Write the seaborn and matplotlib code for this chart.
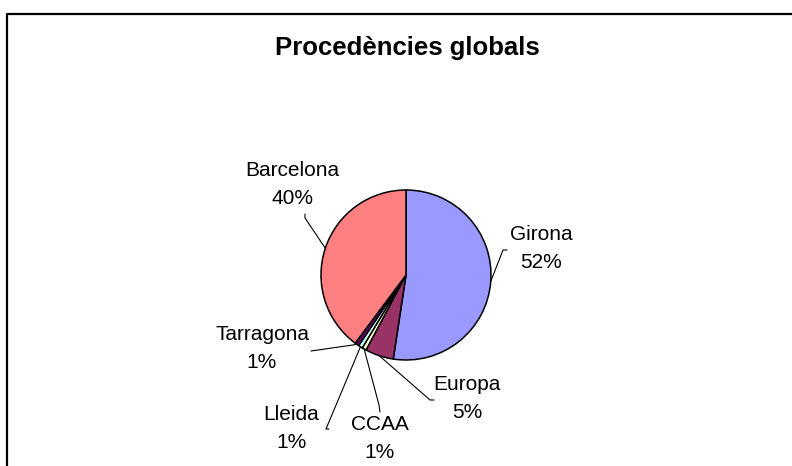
import numpy as np
import seaborn as sns
import matplotlib.pyplot as plt

# data
regions = ['Girona', 'Europa', 'CCAA', 'Lleida', 'Tarragona', 'Barcelona']
shares = [52.4, 5.4, 0.8, 0.8, 0.8, 39.8]
pct_labels = ['52%', '5%', '1%', '1%', '1%', '40%']
colors = ['#9999FF', '#993366', '#FFFFCC', '#CCFFFF', '#660066', '#FF8080']

# label layout in pixels: text centre, leader bend, leader end
W, H = 792, 466
text_pos = [(541, 249), (467, 398), (380, 439), (291, 428), (262, 349), (292, 184)]
line_bend = [(503, 250), (430, 400), (379, 405), (326, 429), (311, 351), (305, 218)]
line_end = [(507, 250), (434, 400), (380, 412), (329, 429), (311, 351), (305, 214)]

sns.set_theme(style='white')
plt.rcParams['font.family'] = ['Liberation Sans', 'DejaVu Sans']
plt.rcParams['text.color'] = 'black'

fig = plt.figure(figsize=(W / 100, H / 100), dpi=100)
ax = fig.add_axes([0, 0, 1, 1])

cx, cy, r = 406, H - 275, 85
wedges, _ = ax.pie(shares, colors=colors, startangle=90, counterclock=False,
                   center=(cx, cy), radius=r,
                   wedgeprops=dict(edgecolor='black', linewidth=1.1))

# pie() resets the limits, so set them afterwards
ax.set_xlim(0, W)
ax.set_ylim(0, H)
ax.set_aspect('equal')
ax.axis('off')

# chart frame (only top and left visible)
ax.plot([7, 7, W + 5], [-5, H - 14, H - 14], color='black', lw=1.6)

ax.text(407, H - 48, 'Procedències globals', ha='center', va='center',
        fontsize=18.5, fontweight='bold', color='black')

for w, name, pct, (tx, ty), (bx, by), (lx, ly) in zip(wedges, regions, pct_labels,
                                                      text_pos, line_bend, line_end):
    mid = np.deg2rad((w.theta1 + w.theta2) / 2)
    ax0, ay0 = cx + r * np.cos(mid), cy + r * np.sin(mid)
    ax.plot([ax0, bx, lx], [ay0, H - by, H - ly], color='black', lw=0.8)
    ax.text(tx, H - ty, f'{name}\n{pct}', ha='center', va='center',
            fontsize=15, linespacing=1.6, color='black')

fig.savefig('out.png', dpi=100)
